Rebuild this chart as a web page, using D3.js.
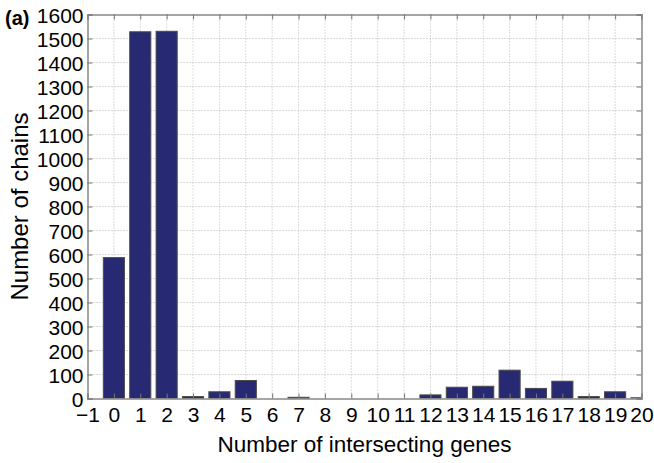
<!DOCTYPE html>
<html>
<head>
    <script src="https://d3js.org/d3.v7.min.js"></script>
    <style>
        body { margin: 0; background: #fff; font-family: "Liberation Sans", Arial, Helvetica, sans-serif; }
        .grid line { stroke: #b8b8b8; stroke-dasharray: 1,2; }
        .tick text { font-size: 21px; fill: #000; }
    </style>
</head>
<body>
    <svg width="654" height="463"></svg>
    <script>
        // Histogram: chains by number of intersecting genes
        let genes = d3.range(0, 21);
        let chains = [587, 1528, 1530, 8, 28, 75, 0, 5, 0, 0, 0, 0, 15, 47, 51, 118, 42, 72, 8, 28, 3];
        let xTicks = d3.range(-1, 21);
        let yTicks = d3.range(0, 1601, 100);

        let svg = d3.select("svg");
        let mLeft = 87.5, mRight = 641.5, mTop = 14.5, mBottom = 398.5;

        let x = d3.scaleLinear().domain([-1, 20]).range([mLeft, mRight]);
        let y = d3.scaleLinear().domain([0, 1600]).range([mBottom, mTop]);
        let barW = (x(1) - x(0)) * 0.8;

        // Dotted grid
        let grid = svg.append("g").attr("class", "grid");
        grid.selectAll(".gx").data(xTicks.slice(1, -1)).enter().append("line")
            .attr("x1", d => x(d)).attr("x2", d => x(d))
            .attr("y1", mTop).attr("y2", mBottom);
        grid.selectAll(".gy").data(yTicks.slice(1, -1)).enter().append("line")
            .attr("y1", d => y(d)).attr("y2", d => y(d))
            .attr("x1", mLeft).attr("x2", mRight);

        // Bars (clipped to the axes box)
        svg.append("clipPath").attr("id", "box").append("rect")
            .attr("x", mLeft).attr("y", mTop).attr("width", mRight - mLeft).attr("height", mBottom - mTop);
        svg.append("g").attr("clip-path", "url(#box)")
            .selectAll("rect").data(genes).enter().append("rect")
            .attr("x", d => x(d) - barW / 2)
            .attr("y", (d, i) => y(chains[i]))
            .attr("width", barW)
            .attr("height", (d, i) => y(0) - y(chains[i]))
            .attr("fill", "#272a72")
            .attr("stroke", "#4a4a4a")
            .attr("stroke-width", 1);

        // Axes (ticks inward, MATLAB style)
        let xAxis = svg.append("g").attr("transform", `translate(0,${mBottom})`)
            .call(d3.axisBottom(x).tickValues(xTicks).tickSize(-5).tickPadding(4)
                .tickFormat(d => d < 0 ? "\u2212" + Math.abs(d) : String(d)));
        svg.append("g").attr("transform", `translate(0,${mTop})`)
            .call(d3.axisTop(x).tickValues(xTicks).tickSize(-5).tickFormat(""));
        let yAxis = svg.append("g").attr("transform", `translate(${mLeft},0)`)
            .call(d3.axisLeft(y).tickValues(yTicks).tickSize(-5).tickPadding(4).tickFormat(d => String(d)));
        svg.append("g").attr("transform", `translate(${mRight},0)`)
            .call(d3.axisRight(y).tickValues(yTicks).tickSize(-5).tickFormat(""));

        svg.selectAll(".domain").attr("stroke", "#888").attr("stroke-width", 1.5);
        svg.selectAll(".tick line").attr("stroke", "#777");
        xAxis.selectAll("text").attr("dy", "0.95em");
        yAxis.selectAll("text").attr("dy", "0.36em");

        // Labels
        svg.append("text").attr("x", x(9.5)).attr("y", 452)
            .attr("text-anchor", "middle").attr("font-size", 22.5)
            .text("Number of intersecting genes");
        svg.append("text").attr("transform", `translate(28,${(mTop + mBottom) / 2}) rotate(-90)`)
            .attr("text-anchor", "middle").attr("font-size", 24)
            .text("Number of chains");
        svg.append("text").attr("x", 5).attr("y", 25)
            .attr("font-size", 20).attr("font-weight", "bold")
            .text("(a)");
    </script>
</body>
</html>
